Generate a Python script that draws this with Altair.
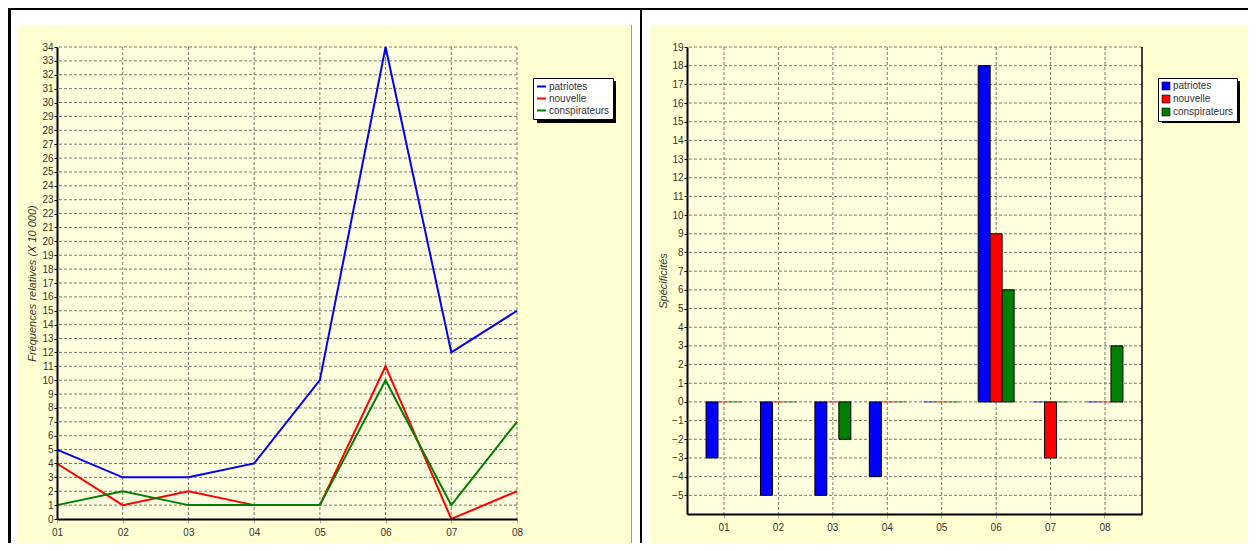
import altair as alt
import pandas as pd

# ---------------- data ----------------
periods = ["01", "02", "03", "04", "05", "06", "07", "08"]
series = ["patriotes", "nouvelle", "conspirateurs"]
colors = ["#0000FF", "#FF0000", "#008000"]

freq_patriotes = [5, 3, 3, 4, 10, 34, 12, 15]
freq_nouvelle = [4, 1, 2, 1, 1, 11, 0, 2]
freq_conspirateurs = [1, 2, 1, 1, 1, 10, 1, 7]

spec_patriotes = [-3, -5, -5, -4, 0, 18, 0, 0]
spec_nouvelle = [0, 0, 0, 0, 0, 9, -3, 0]
spec_conspirateurs = [0, 0, -2, 0, 0, 6, 0, 3]

left_y_ticks = list(range(0, 35))
right_y_ticks = list(range(-5, 20))

left_title = "Fréquences relatives (X 10 000)"
right_title = "Spécificités"

FONT = "Liberation Sans"
LABEL_COLOR = "#333333"
GRID_COLOR = "#7a7a70"
PANEL = "#FFFFD2"
PLOT = "#FFFFE0"


def long_table(values_lists):
    rows = []
    for s, vals in zip(series, values_lists):
        for p, v in zip(periods, vals):
            rows.append({"period": p, "series": s, "value": v})
    return pd.DataFrame(rows)


line_df = long_table([freq_patriotes, freq_nouvelle, freq_conspirateurs])
bar_df = long_table([spec_patriotes, spec_nouvelle, spec_conspirateurs])

one = pd.DataFrame({"k": [0]})


def box(x, x2, y, y2, color):
    return alt.Chart(one).mark_rect(color=color).encode(
        x=alt.value(x), x2=alt.value(x2), y=alt.value(y), y2=alt.value(y2)
    )


color_scale = alt.Scale(domain=series, range=colors)


def x_axis():
    return alt.Axis(
        title=None, labelAngle=0, grid=False, domainColor="black", domainWidth=2,
        tickColor="#b0b0b0", tickSize=4, labelPadding=4, labelFont=FONT,
        labelFontSize=10, labelColor=LABEL_COLOR, bandPosition=0.5, zindex=1,
    )


def y_axis(values, title, title_x, title_y):
    return alt.Axis(
        values=values, title=title, grid=False, domainColor="black",
        domainWidth=2, tickColor="black", tickSize=3, labelPadding=1,
        labelFont=FONT, labelFontSize=10, labelColor=LABEL_COLOR,
        titleFont=FONT, titleFontSize=11, titleFontStyle="italic",
        titleFontWeight="normal", titleColor=LABEL_COLOR, titleX=title_x,
        titleY=title_y, titleAngle=270, titleAlign="center",
        titleBaseline="middle", zindex=1,
    )


def line_legend(x, y):
    return alt.Legend(
        title=None, orient="none", legendX=x, legendY=y, fillColor="white",
        strokeColor="black", padding=3, labelFont=FONT, labelFontSize=10,
        labelColor=LABEL_COLOR, labelOffset=2, rowPadding=1, symbolType="stroke",
        symbolSize=81, symbolStrokeWidth=2, zindex=2,
    )


def bar_legend(x, y):
    return alt.Legend(
        title=None, orient="none", legendX=x, legendY=y, fillColor="white",
        strokeColor="black", padding=3, labelFont=FONT, labelFontSize=10,
        labelColor=LABEL_COLOR, labelOffset=2, rowPadding=1, symbolType="square",
        symbolSize=64, symbolStrokeColor="black", symbolStrokeWidth=0.6, zindex=2,
    )


# ---------------- left panel: line chart ----------------
LW, LH = 460, 472

left_decor = [
    box(-49, 585, -39, 496, "black"),
    box(-46, 583, -37, 496, "white"),
    box(-39, 574, -22, 496, PANEL),
    box(574, 575, -22, 496, "#9a9a9a"),
    box(0, LW, 0, LH, PLOT),
    box(480, 559, 34, 76, "black"),  # legend shadow
]

lx_scale = alt.Scale(type="point", padding=0, domain=periods)
ly_scale = alt.Scale(domain=[0, 34], nice=False)
lx = alt.X("period:O", scale=lx_scale, axis=x_axis())
ly = alt.Y("value:Q", scale=ly_scale, axis=y_axis(left_y_ticks, left_title, -25, LH / 2))

left_hgrid = alt.Chart(pd.DataFrame({"value": left_y_ticks[1:]})).mark_rule(
    color=GRID_COLOR, strokeDash=[3, 2], strokeWidth=1
).encode(y=ly)

left_vgrid = alt.Chart(pd.DataFrame({"period": periods[1:]})).mark_rule(
    color=GRID_COLOR, strokeDash=[3, 2], strokeWidth=1
).encode(x=lx)

left_lines = alt.Chart(line_df).mark_line(strokeWidth=2).encode(
    x=lx,
    y=ly,
    color=alt.Color("series:N", scale=color_scale, sort=series,
                    legend=line_legend(476, 31)),
    detail="series:N",
)

left = alt.layer(*left_decor, left_hgrid, left_vgrid, left_lines).properties(
    width=LW, height=LH
)

# ---------------- right panel: grouped bars ----------------
RW, RH = 455, 467
R_END = 561  # page x 1248, the right edge of the page's content box

right_decor = [
    box(-45, R_END, -39, 496, "white"),
    box(-45, R_END, -39, -37, "black"),
    box(-37, R_END, -22, 496, PANEL),
    box(0, RW, 0, RH, PLOT),
    box(475, 553, 34, 76, "black"),  # legend shadow
]

rx_scale = alt.Scale(domain=periods, paddingInner=0.34, paddingOuter=0.35)
ry_scale = alt.Scale(domain=[-6, 19], nice=False)
rx = alt.X("period:N", scale=rx_scale, axis=x_axis())
ry = alt.Y("value:Q", scale=ry_scale, axis=y_axis(right_y_ticks, right_title, -24, RH / 2))

right_hgrid = alt.Chart(pd.DataFrame({"value": right_y_ticks})).mark_rule(
    color=GRID_COLOR, strokeDash=[3, 2], strokeWidth=1
).encode(y=ry)

right_vgrid = alt.Chart(pd.DataFrame({"period": periods})).mark_rule(
    color=GRID_COLOR, strokeDash=[3, 2], strokeWidth=1
).encode(x=rx)

right_border = alt.Chart(one).mark_rule(color="black", strokeWidth=1.5).encode(
    x=alt.value(RW), y=alt.value(0), y2=alt.value(RH)
)

right_bars = alt.Chart(bar_df).mark_bar(strokeWidth=1).encode(
    x=rx,
    xOffset=alt.XOffset("series:N", scale=alt.Scale(domain=series)),
    y=ry,
    color=alt.Color("series:N", scale=color_scale, sort=series,
                    legend=bar_legend(471, 31)),
    stroke=alt.condition(
        "datum.value == 0",
        alt.Stroke("series:N", scale=alt.Scale(domain=series, range=colors), legend=None),
        alt.value("black"),
    ),
    strokeOpacity=alt.condition("datum.value == 0", alt.value(0.45), alt.value(1)),
)

right = alt.layer(*right_decor, right_hgrid, right_vgrid, right_bars, right_border).properties(
    width=RW, height=RH
)

chart = (
    alt.hconcat(left, right, spacing=0)
    .resolve_legend(color="independent")
    .resolve_scale(x="independent", y="independent")
    .properties(padding=0, background="white")
    .configure_view(stroke=None)
)

chart.save("out.html", embed_options={"renderer": "svg", "actions": False})
